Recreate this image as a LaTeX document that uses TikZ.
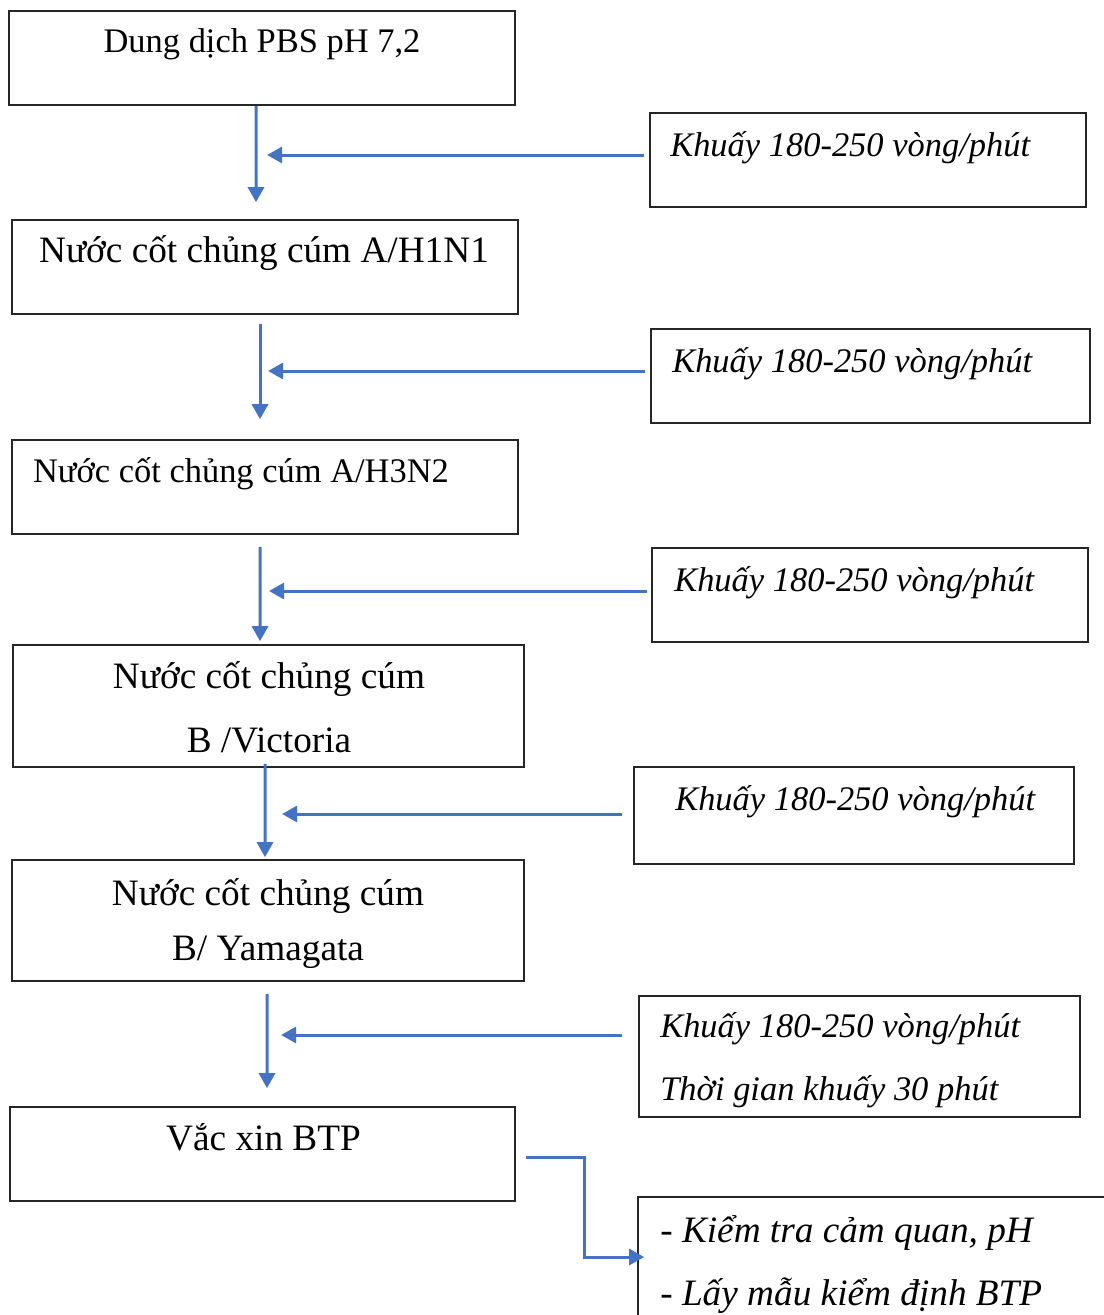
\documentclass[tikz,border=0pt]{standalone}
\usepackage{fontspec}
\setmainfont{Liberation Serif}
\usetikzlibrary{arrows.meta}
\definecolor{flowblue}{HTML}{4472C4}
\tikzset{
  box/.style={draw=black!85, line width=0.04cm, inner sep=0pt},
  txt/.style={anchor=base, inner sep=0pt, font=\fontsize{24.5}{29}\selectfont},
  big/.style={anchor=base, inner sep=0pt, font=\fontsize{26.5}{31}\selectfont},
  note/.style={anchor=base west, inner sep=0pt, font=\itshape\fontsize{24.5}{29}\selectfont},
  bignote/.style={anchor=base west, inner sep=0pt, font=\itshape\fontsize{26.5}{31}\selectfont},
  arr/.style={draw=flowblue, line width=0.075cm, -{Triangle[length=0.375cm,width=0.4cm]}},
}
\begin{document}
\begin{tikzpicture}[x=0.025cm,y=-0.025cm]
\useasboundingbox (0,0) rectangle (1104,1315);
\clip (0,0) rectangle (1104,1315);

% main column:
\node[box, minimum width=12.65cm, minimum height=2.35cm] (pbs) at (262,58) {};
\node[box, minimum width=12.65cm, minimum height=2.35cm] (h1n1) at (265,267) {};
\node[box, minimum width=12.65cm, minimum height=2.35cm] (h3n2) at (265,487) {};
\node[box, minimum width=12.775cm, minimum height=3.05cm] (vic) at (268.5,706) {};
\node[box, minimum width=12.8cm, minimum height=3.025cm] (yam) at (268,920.5) {};
\node[box, minimum width=12.625cm, minimum height=2.35cm] (btp) at (262.5,1154) {};
\node[txt] (pbs-t) at (262,52) {Dung dịch PBS pH 7,2};
\node[big] (h1n1-t) at (264,262) {Nước cốt chủng cúm A/H1N1};
\node[txt] (h3n2-t) at (241,482) {Nước cốt chủng cúm A/H3N2};
\node[big] (vic-t1) at (269,688) {Nước cốt chủng cúm};
\node[big] (vic-t2) at (269,752) {B /Victoria};
\node[big] (yam-t1) at (268,905) {Nước cốt chủng cúm};
\node[big] (yam-t2) at (268,960) {B/ Yamagata};
\node[big] (btp-t) at (263.5,1150) {Vắc xin BTP};

% side notes:
\node[box, minimum width=10.9cm, minimum height=2.35cm] (k1) at (868,160) {};
\node[box, minimum width=10.975cm, minimum height=2.35cm] (k2) at (870.5,376) {};
\node[box, minimum width=10.9cm, minimum height=2.35cm] (k3) at (870,595) {};
\node[box, minimum width=11cm, minimum height=2.425cm] (k4) at (854,815.5) {};
\node[box, minimum width=11.025cm, minimum height=3.025cm] (k5) at (859.5,1056.5) {};
\node[box, minimum width=11.8cm, minimum height=3.325cm] (kt) at (874,1263.5) {};
\node[note] (k1-t) at (670,156) {Khuấy 180-250 vòng/phút};
\node[note] (k2-t) at (672,372) {Khuấy 180-250 vòng/phút};
\node[note] (k3-t) at (674,591) {Khuấy 180-250 vòng/phút};
\node[note] (k4-t) at (675,810) {Khuấy 180-250 vòng/phút};
\node[note] (k5-t1) at (660,1037) {Khuấy 180-250 vòng/phút};
\node[note] (k5-t2) at (660,1100) {Thời gian khuấy 30 phút};
\node[bignote] (kt-t1) at (660,1242) {- Kiểm tra cảm quan, pH};
\node[bignote] (kt-t2) at (660,1305) {- Lấy mẫu kiểm định BTP};

% arrows:
\draw[arr] ([xshift=-0.15cm]pbs.south) -- ([xshift=-0.225cm,yshift=0.425cm]h1n1.north);
\draw[arr] ([xshift=-0.125cm,yshift=-0.225cm]h1n1.south) -- ([xshift=-0.125cm,yshift=0.5cm]h3n2.north);
\draw[arr] ([xshift=-0.125cm,yshift=-0.3cm]h3n2.south) -- ([xshift=-0.2125cm,yshift=0.075cm]vic.north);
\draw[arr] ([xshift=-0.0875cm,yshift=0.1cm]vic.south) -- ([xshift=-0.075cm,yshift=0.05cm]yam.north);
\draw[arr] ([xshift=-0.025cm,yshift=-0.3cm]yam.south) -- ([xshift=0.1125cm,yshift=0.45cm]btp.north);
\draw[arr] ([xshift=-0.125cm,yshift=0.125cm]k1.west) -- ([xshift=-9.55cm,yshift=0.125cm]k1.west);
\draw[arr] ([xshift=-0.125cm,yshift=0.125cm]k2.west) -- ([xshift=-9.55cm,yshift=0.125cm]k2.west);
\draw[arr] ([xshift=-0.1cm,yshift=0.1cm]k3.west) -- ([xshift=-9.55cm,yshift=0.1cm]k3.west);
\draw[arr] ([xshift=-0.275cm,yshift=0.0375cm]k4.west) -- ([xshift=-8.775cm,yshift=0.0375cm]k4.west);
\draw[arr] ([xshift=-0.4cm,yshift=0.5375cm]k5.west) -- ([xshift=-8.925cm,yshift=0.5375cm]k5.west);
\draw[arr] ([xshift=0.25cm,yshift=-0.075cm]btp.east) -- ++(59,0) |- ([xshift=0.175cm,yshift=0.1625cm]kt.west);

\end{tikzpicture}
\end{document}
